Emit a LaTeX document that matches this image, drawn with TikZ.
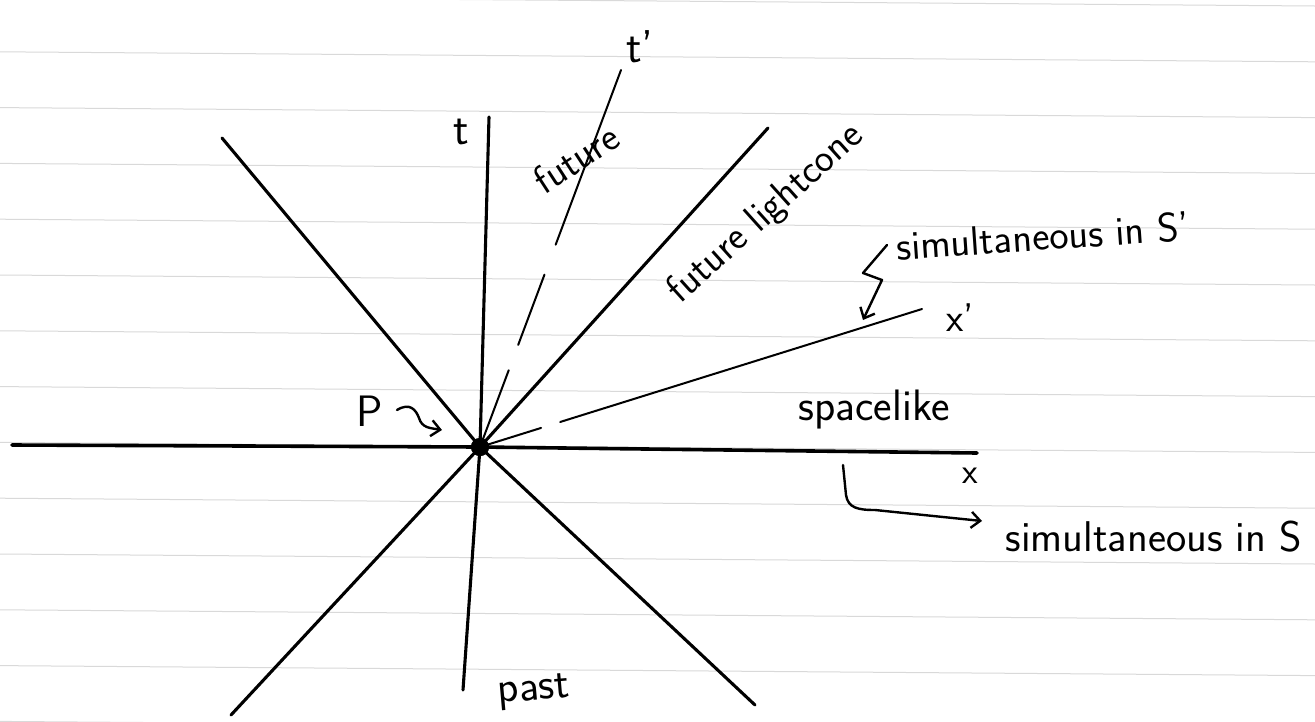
\documentclass[tikz,border=0pt]{standalone}
\usepackage{fontspec}
\usetikzlibrary{arrows.meta}
\begin{document}
\begin{tikzpicture}[x=1pt,y=-1pt,
  rule/.style={gray!30,line width=1pt},
  axisline/.style={line width=3.6pt,line cap=round},
  coneline/.style={line width=3.1pt,line cap=round},
  frameline/.style={line width=2pt,line cap=round},
  hand/.style={font=\sffamily\fontsize{#1}{#1}\selectfont,inner sep=0pt},
  hand/.default=40,
  pointer/.style={line width=2.4pt,line cap=round,line join=round,-{Straight Barb[length=9pt,width=16pt,line width=2.4pt]}},
  event/.style={circle,fill=black,minimum size=18pt,inner sep=0pt}]
\useasboundingbox (0,0) rectangle (1315,721);
\fill[white] (0,0) rectangle (1315,721);
% ruled paper
\foreach \k in {0,...,13}{
  \draw[rule] (0,{-4+55.8*\k}) -- (1315,{6+55.8*\k});
}
% event P
\node[event] (P) at (480,447) {};
\coordinate (xl) at (12,445);
\coordinate (xr) at (977,453);
\coordinate (tt) at (489,117);
\coordinate (tb) at (463,690);
\coordinate (ul) at (222,138);
\coordinate (lr) at (755,705);
\coordinate (ur) at (768,128);
\coordinate (ll) at (231,715);
\coordinate (tp) at (621,70);
\coordinate (xp) at (922,309);
% axes
\draw[axisline] (xl) -- (P.center) -- (xr);
\draw[coneline] (tt) -- (P.center) -- (tb);
% light cone
\draw[coneline] (ul) -- (P.center);
\draw[coneline] (P.center) -- (lr);
\draw[coneline] (ur) -- (P.center);
\draw[coneline] (P.center) -- (ll);
% primed frame
\draw[frameline,dash pattern=on 82pt off 27pt on 75pt off 32pt on 300pt] (P.center) -- (tp);
\draw[frameline,dash pattern=on 64pt off 20pt on 500pt] (P.center) -- (xp);
\node[event] at (P) {};
% labels
\node[hand=46] (lt) at (461,132) {t};
\node[hand=46] (ltp) at (640,47) {t’};
\node[hand=40] (lxp) at (960,318) {x’};
\node[hand=36] (lx) at (970,476) {x};
\node[hand=44] (lP) at (370,411) {P};
\node[hand=40,rotate=33] (lfut) at (576,158) {future};
\node[hand=40,rotate=42] (lcone) at (766,214) {future lightcone};
\node[hand=41,rotate=4] (lsimp) at (1043,236) {simultaneous in S’};
\node[hand=44] (lspace) at (874,410) {spacelike};
\node[hand=43] (lsim) at (1154,537) {simultaneous in S};
\node[hand=44,rotate=5] (lpast) at (534,692) {past};
% pointers
\coordinate (pa0) at (397,410);
\coordinate (pa1) at (442,430);
\draw[pointer] (pa0) .. controls (410,402) and (416,410) .. (419,418)
  .. controls (422,428) and (430,428) .. (pa1);
\coordinate (sa0) at (887,245);
\coordinate (sa1) at (863,320);
\draw[pointer] (sa0) -- (863,273) -- (882,280) -- (sa1);
\coordinate (la0) at (843,465);
\coordinate (la1) at (982,521);
\draw[pointer] (la0) -- (846,495) .. controls (848,508) and (858,510) .. (875,510) -- (la1);
\end{tikzpicture}
\end{document}
